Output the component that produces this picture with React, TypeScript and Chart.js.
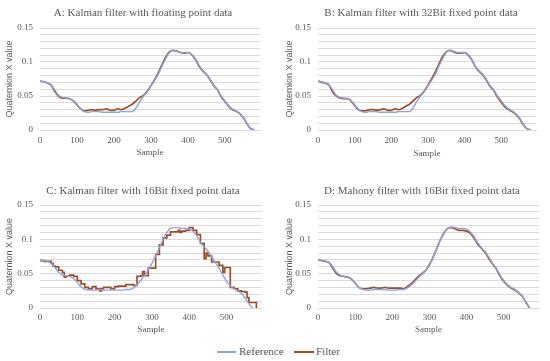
import React, { useEffect, useRef } from "react";
import { Chart, registerables } from "chart.js";

Chart.register(...registerables);

const SERIF = '"Liberation Serif", "Times New Roman", serif';
const SANS = '"Liberation Sans", Arial, sans-serif';
const TEXT = "#595959";
const REF_COLOR = "#8EA4DC";
const FILTER_COLOR = "#9E4F2A";
const GRID = "#DADADA";

const panelTitles = [
  "A: Kalman filter with floating point data",
  "B: Kalman filter with 32Bit fixed point data",
  "C: Kalman filter with 16Bit fixed point data",
  "D: Mahony filter with 16Bit fixed point data",
];
const xAxisTitle = "Sample";
const yAxisTitle = "Quaternion X value";
const legendLabels = ["Reference", "Filter"];
const xTickValues = [0, 100, 200, 300, 400, 500];

const sampleX = [
  0, 10, 20, 30, 40, 50, 60, 70, 80, 90, 100, 110, 120, 130, 140, 150, 160, 170, 180, 190,
  200, 210, 220, 230, 240, 250, 260, 270, 280, 290, 300, 310, 320, 330, 340, 350, 360, 370,
  380, 390, 400, 410, 420, 430, 440, 450, 460, 470, 480, 490, 500, 510, 520, 530, 540, 550,
  560, 570, 580,
];

const referenceAB = [
  0.072, 0.071, 0.069, 0.066, 0.059, 0.051, 0.048, 0.047, 0.046, 0.043, 0.037, 0.031, 0.027,
  0.026, 0.027, 0.027, 0.027, 0.026, 0.026, 0.026, 0.026, 0.026, 0.027, 0.027, 0.027, 0.027,
  0.033, 0.042, 0.05, 0.056, 0.065, 0.073, 0.082, 0.094, 0.105, 0.114, 0.117, 0.116, 0.114,
  0.114, 0.114, 0.111, 0.103, 0.093, 0.087, 0.082, 0.074, 0.065, 0.059, 0.05, 0.043, 0.036,
  0.031, 0.028, 0.024, 0.018, 0.009, 0.002, 0.0,
];

const filterA = [
  0.072, 0.071, 0.069, 0.066, 0.057, 0.05, 0.047, 0.047, 0.046, 0.043, 0.037, 0.031, 0.028,
  0.029, 0.03, 0.029, 0.03, 0.03, 0.031, 0.029, 0.029, 0.031, 0.03, 0.032, 0.035, 0.038,
  0.043, 0.048, 0.051, 0.057, 0.065, 0.074, 0.084, 0.096, 0.107, 0.115, 0.117, 0.116, 0.114,
  0.113, 0.114, 0.111, 0.104, 0.094, 0.087, 0.082, 0.074, 0.065, 0.059, 0.049, 0.042, 0.035,
  0.03, 0.028, 0.024, 0.018, 0.009, 0.002, 0.0,
];

const filterB = [
  0.072, 0.07, 0.069, 0.066, 0.056, 0.05, 0.047, 0.046, 0.046, 0.043, 0.036, 0.03, 0.028,
  0.028, 0.03, 0.03, 0.029, 0.03, 0.031, 0.029, 0.029, 0.031, 0.03, 0.032, 0.035, 0.038,
  0.043, 0.048, 0.051, 0.057, 0.066, 0.075, 0.085, 0.097, 0.108, 0.115, 0.117, 0.115, 0.113,
  0.113, 0.114, 0.11, 0.103, 0.093, 0.086, 0.081, 0.073, 0.064, 0.058, 0.048, 0.041, 0.034,
  0.03, 0.027, 0.023, 0.017, 0.008, 0.002, 0.0,
];

const referenceC = [
  0.07, 0.069, 0.068, 0.065, 0.059, 0.052, 0.048, 0.047, 0.046, 0.043, 0.037, 0.031, 0.027,
  0.026, 0.026, 0.026, 0.027, 0.026, 0.026, 0.026, 0.026, 0.026, 0.026, 0.027, 0.027, 0.029,
  0.034, 0.04, 0.047, 0.055, 0.065, 0.076, 0.088, 0.1, 0.11, 0.116, 0.117, 0.117, 0.116,
  0.116, 0.115, 0.112, 0.105, 0.096, 0.089, 0.083, 0.075, 0.066, 0.058, 0.048, 0.039, 0.032,
  0.028, 0.025, 0.021, 0.014, 0.006, 0.0, null,
];

const filterCX = [
  0, 10, 20, 30, 35, 40, 50, 60, 65, 70, 80, 90, 100, 110, 120, 130, 140, 150, 160, 165, 170,
  180, 190, 200, 210, 220, 230, 240, 250, 260, 270, 275, 280, 290, 300, 310, 320, 330, 340,
  350, 360, 370, 375, 380, 390, 400, 410, 420, 430, 440, 445, 450, 460, 470, 480, 490, 495,
  500, 510, 520, 530, 540, 550, 555, 560, 570, 580,
];

const filterCY = [
  0.069, 0.068, 0.068, 0.065, 0.061, 0.06, 0.055, 0.052, 0.045, 0.047, 0.048, 0.046, 0.04,
  0.035, 0.03, 0.028, 0.031, 0.028, 0.025, 0.028, 0.03, 0.03, 0.028, 0.031, 0.032, 0.032,
  0.034, 0.034, 0.033, 0.046, 0.047, 0.053, 0.047, 0.058, 0.058, 0.078, 0.092, 0.102, 0.106,
  0.111, 0.111, 0.113, 0.11, 0.112, 0.113, 0.117, 0.113, 0.107, 0.094, 0.072, 0.08, 0.076,
  0.067, 0.067, 0.062, 0.052, 0.059, 0.059, 0.03, 0.028, 0.025, 0.024, 0.023, 0.015, 0.008,
  0.008, 0.0,
];

const referenceD = [
  0.07, 0.069, 0.068, 0.066, 0.06, 0.052, 0.048, 0.046, 0.045, 0.042, 0.036, 0.03, 0.027,
  0.026, 0.026, 0.027, 0.027, 0.027, 0.027, 0.026, 0.026, 0.026, 0.027, 0.027, 0.029, 0.033,
  0.038, 0.044, 0.049, 0.055, 0.063, 0.074, 0.087, 0.1, 0.11, 0.116, 0.118, 0.117, 0.116,
  0.116, 0.115, 0.111, 0.104, 0.095, 0.088, 0.082, 0.074, 0.065, 0.058, 0.048, 0.04, 0.034,
  0.03, 0.027, 0.023, 0.017, 0.008, 0.0, null,
];

const filterD = [
  0.07, 0.069, 0.068, 0.066, 0.058, 0.05, 0.047, 0.046, 0.045, 0.042, 0.036, 0.03, 0.028,
  0.028, 0.029, 0.03, 0.029, 0.029, 0.03, 0.029, 0.029, 0.029, 0.029, 0.028, 0.031, 0.035,
  0.04, 0.046, 0.05, 0.055, 0.063, 0.074, 0.087, 0.1, 0.11, 0.116, 0.117, 0.115, 0.113,
  0.113, 0.112, 0.109, 0.102, 0.093, 0.087, 0.081, 0.072, 0.064, 0.057, 0.047, 0.039, 0.033,
  0.029, 0.026, 0.022, 0.017, 0.008, 0.0, null,
];

const W = 275;
const H = 170;

const panelTitlePlugin = {
  id: "panelTitle",
  afterDraw(chart: any, _args: any, opts: any) {
    const ctx = chart.ctx;
    ctx.save();
    ctx.font = `${opts.size}px ${SERIF}`;
    ctx.fillStyle = TEXT;
    ctx.textAlign = "center";
    ctx.textBaseline = "middle";
    ctx.fillText(opts.text, opts.x, opts.y);
    ctx.restore();
  },
};

type Area = { l: number; r: number; t: number; b: number };
type PanelProps = {
  left: number;
  top: number;
  title: string;
  titleX: number;
  titleY: number;
  area: Area;
  yTitleX: number;
  xTitleY: number;
  xTickPad: number;
  refX: number[];
  refY: (number | null)[];
  filX: number[];
  filY: (number | null)[];
  stepped?: boolean;
};

function Panel(p: PanelProps) {
  const ref = useRef<HTMLCanvasElement | null>(null);
  useEffect(() => {
    const canvas = ref.current;
    if (!canvas) return;
    const chart = new Chart(canvas, {
      type: "line",
      data: {
        datasets: [
          {
            label: legendLabels[0],
            data: p.refX.map((x, i) => ({ x, y: p.refY[i] })),
            borderColor: REF_COLOR,
            borderWidth: 1.4,
            pointRadius: 0,
            cubicInterpolationMode: "monotone",
            fill: false,
          },
          {
            label: legendLabels[1],
            data: p.filX.map((x, i) => ({ x, y: p.filY[i] })),
            borderColor: FILTER_COLOR,
            borderWidth: 1.7,
            pointRadius: 0,
            stepped: p.stepped ? true : false,
            cubicInterpolationMode: "monotone",
            fill: false,
          },
        ],
      } as any,
      options: {
        responsive: false,
        animation: false,
        events: [],
        layout: { padding: { left: 0, right: W - p.area.r, top: p.area.t, bottom: 0 } },
        plugins: {
          legend: { display: false },
          tooltip: { enabled: false },
          title: { display: false },
          panelTitle: { text: p.title, x: p.titleX, y: p.titleY, size: 11 },
        } as any,
        scales: {
          x: {
            type: "linear",
            min: 0,
            max: 595,
            afterBuildTicks: (s: any) => {
              s.ticks = xTickValues.map((v) => ({ value: v }));
            },
            afterFit: (s: any) => {
              s.height = H - p.area.b;
            },
            grid: { display: false, drawTicks: false },
            border: { display: true, color: GRID },
            ticks: {
              autoSkip: false,
              maxRotation: 0,
              padding: p.xTickPad,
              color: TEXT,
              font: { family: SERIF, size: 9 },
              callback: (v: any) => String(v),
            },
            title: {
              display: true,
              text: xAxisTitle,
              color: TEXT,
              font: { family: SERIF, size: 9 },
              padding: { top: 0, bottom: H - p.xTitleY - 5.4 },
            },
          },
          y: {
            type: "linear",
            min: 0,
            max: 0.15,
            afterFit: (s: any) => {
              s.width = p.area.l;
            },
            grid: { color: GRID, drawTicks: false },
            border: { display: false },
            ticks: {
              stepSize: 0.01,
              autoSkip: false,
              padding: 7,
              color: TEXT,
              font: { family: SERIF, size: 9 },
              callback: (v: any) => {
                const k = Math.round(Number(v) * 100);
                return k % 5 === 0 ? String(k / 100) : "";
              },
            },
            title: {
              display: true,
              text: yAxisTitle,
              color: TEXT,
              font: { family: SANS, size: 9 },
              padding: { top: p.yTitleX - 5.4, bottom: 0 },
            },
          },
        },
      } as any,
      plugins: [panelTitlePlugin as any],
    });
    return () => chart.destroy();
  }, []);
  return (
    <canvas
      ref={ref}
      width={W}
      height={H}
      style={{ position: "absolute", left: p.left, top: p.top, width: W, height: H }}
    />
  );
}

export default function App() {
  return (
    <div
      style={{
        position: "absolute",
        left: 0,
        top: 0,
        width: 550,
        height: 361,
        background: "#ffffff",
        overflow: "hidden",
      }}
    >
      <Panel
        left={0}
        top={0}
        title={panelTitles[0]}
        titleX={143}
        titleY={13}
        area={{ l: 40, r: 260, t: 28, b: 130 }}
        yTitleX={10}
        xTitleY={153}
        xTickPad={5}
        refX={sampleX}
        refY={referenceAB}
        filX={sampleX}
        filY={filterA}
      />
      <Panel
        left={275}
        top={0}
        title={panelTitles[1]}
        titleX={146}
        titleY={13.5}
        area={{ l: 43, r: 261, t: 28, b: 130 }}
        yTitleX={15}
        xTitleY={153.5}
        xTickPad={5}
        refX={sampleX}
        refY={referenceAB}
        filX={sampleX}
        filY={filterB}
      />
      <Panel
        left={0}
        top={170}
        title={panelTitles[2]}
        titleX={143}
        titleY={20.7}
        area={{ l: 40, r: 262, t: 35, b: 138 }}
        yTitleX={10}
        xTitleY={159.5}
        xTickPad={4}
        refX={sampleX}
        refY={referenceC}
        filX={filterCX}
        filY={filterCY}
        stepped
      />
      <Panel
        left={275}
        top={170}
        title={panelTitles[3]}
        titleX={147}
        titleY={20.7}
        area={{ l: 43, r: 264, t: 35, b: 138 }}
        yTitleX={15}
        xTitleY={160}
        xTickPad={4}
        refX={sampleX}
        refY={referenceD}
        filX={sampleX}
        filY={filterD}
      />
      <div style={{ position: "absolute", left: 217, top: 351, width: 19, height: 2, background: REF_COLOR }} />
      <div
        style={{
          position: "absolute",
          left: 239,
          top: 344,
          fontFamily: SERIF,
          fontSize: 11,
          lineHeight: "14px",
          color: TEXT,
          whiteSpace: "nowrap",
        }}
      >
        {legendLabels[0]}
      </div>
      <div style={{ position: "absolute", left: 294, top: 351, width: 20, height: 2, background: FILTER_COLOR }} />
      <div
        style={{
          position: "absolute",
          left: 316,
          top: 344,
          fontFamily: SERIF,
          fontSize: 11,
          lineHeight: "14px",
          color: TEXT,
          whiteSpace: "nowrap",
        }}
      >
        {legendLabels[1]}
      </div>
    </div>
  );
}
